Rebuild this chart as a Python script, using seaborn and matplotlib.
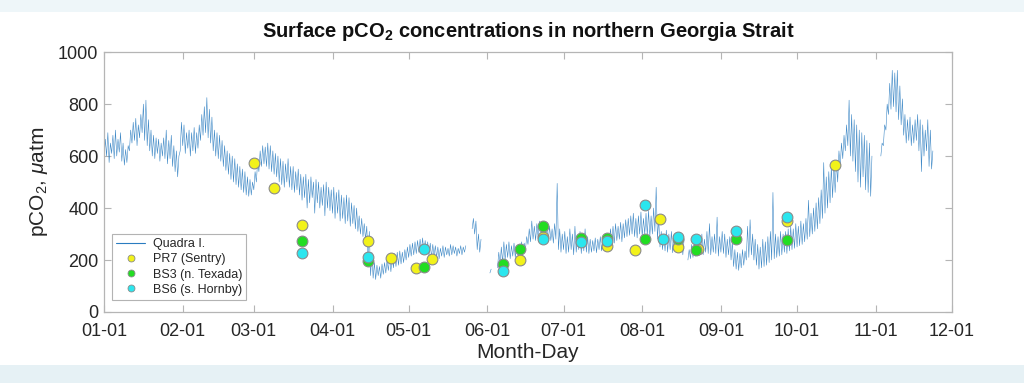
import numpy as np
import pandas as pd
import matplotlib
matplotlib.use("Agg")
import matplotlib.pyplot as plt
import matplotlib.dates as mdates
from matplotlib.lines import Line2D
from matplotlib.patches import Rectangle
import seaborn as sns

# ---------------- data ----------------
YEAR_START = "2017-01-01"
NA = np.nan

# Quadra I. continuous record: daily low / high envelope (day 0 = Jan 1)
quadra_lo = [590, 600, 575, 610, 590, 600, 615, 580, 565, 575,
             620, 650, 660, 640, 670, 690, 660, 640, 620, 600,
             590, 610, 580, 600, 590, 570, 590, 560, 540, 520,
             620, 640, 610, 630, 600, 620, 610, 630, 660, 680,
             690, 670, 650, 620, 600, 590, 580, 560, 545, 530,
             510, 500, 490, 480, 470, 460, 450, 445, 450, 470,
             500, 540, 560, 570, 560, 550, 540, 530, 520, 500,
             490, 480, 500, 480, 470, 460, 470, 450, 430, 440,
             400, 420, 440, 380, 420, 400, 410, 370, 400, 390,
             380, 360, 380, 350, 360, 340, 350, 330, 340, 320,
             310, 300, 290, 280, 200, 140, 130, 125, 140, 130,
             145, 150, 160, 155, 170, 175, 180, 185, 190, 200,
             210, 215, 220, 225, 230, 235, 225, 220, 215, 210,
             215, 210, 205, 215, 210, 220, 215, 220, 225, 215,
             225, 220, 230, NA, NA, 320, 300, 240, 230, NA,
             NA, NA, 150, NA, NA, 170, 180, 190, 200, 210,
             205, 215, 210, 220, 225, 230, 240, 260, 270, 280,
             275, 285, 280, 275, 285, 270, 275, 265, 280, 240,
             230, 240, 225, 230, 240, 220, 230, 240, 225, 235,
             230, 225, 230, 235, 228, 240, 235, 245, 250, 260,
             270, 265, 275, 280, 270, 285, 290, 295, 300, 290,
             285, 300, 290, 300, 295, 290, 300, 310, 280, 250,
             240, 235, 230, 240, 228, 235, 240, 230, 220, NA,
             200, 205, 210, 215, 220, 225, 220, 230, 225, 220,
             230, 225, 215, 230, 225, 210, 220, 200, 175, 165,
             160, 170, 180, 200, 210, 220, 200, 180, 165, 170,
             175, 180, 190, 200, 205, 210, 215, 220, 230, 225,
             235, 240, 245, 250, 255, 260, 270, 280, 290, 300,
             310, 320, 340, 360, 380, 400, 420, 440, 460, 500,
             560, 590, 620, 640, 600, 580, 540, 500, 480, 520,
             470, 460, 445, NA, NA, NA, 600, 640, 700, 760,
             780, 790, 770, 740, 720, 680, 650, 660, 640, 650,
             660, 620, 540, 600, 620, 560, 550]
quadra_hi = [665, 690, 650, 680, 700, 665, 690, 650, 625, 640,
             700, 730, 745, 720, 760, 800, 815, 740, 700, 680,
             670, 665, 650, 670, 700, 660, 680, 640, 620, 600,
             730, 720, 690, 700, 690, 710, 690, 720, 760, 790,
             825, 780, 750, 700, 690, 680, 660, 640, 620, 610,
             600, 590, 570, 560, 550, 540, 520, 510, 500, 540,
             580, 620, 640, 635, 650, 640, 620, 610, 600, 590,
             580, 570, 590, 560, 560, 540, 550, 530, 520, 530,
             510, 520, 500, 510, 500, 480, 490, 500, 480, 470,
             480, 460, 470, 450, 440, 450, 440, 420, 410, 400,
             370, 360, 340, 330, 310, 230, 190, 180, 175, 185,
             190, 200, 210, 215, 225, 230, 235, 230, 240, 250,
             260, 265, 270, 275, 280, 285, 275, 270, 265, 260,
             255, 250, 245, 255, 250, 245, 260, 255, 250, 245,
             255, 250, 255, NA, NA, 360, 350, 300, 280, NA,
             NA, NA, 165, NA, NA, 230, 250, 270, 260, 270,
             255, 265, 250, 260, 270, 265, 290, 320, 350, 330,
             340, 350, 330, 340, 345, 330, 320, 340, 495, 320,
             300, 310, 290, 320, 300, 330, 290, 310, 300, 320,
             290, 280, 275, 285, 280, 290, 285, 295, 300, 320,
             330, 340, 330, 345, 340, 355, 360, 370, 380, 360,
             370, 385, 360, 380, 390, 370, 400, 480, 360, 310,
             300, 315, 300, 310, 290, 300, 305, 290, 280, NA,
             240, 260, 270, 280, 290, 300, 280, 310, 340, 290,
             300, 365, 290, 310, 300, 280, 290, 270, 240, 230,
             225, 240, 235, 330, 355, 300, 280, 260, 250, 280,
             270, 290, 310, 460, 300, 290, 310, 300, 310, 320,
             330, 320, 340, 330, 350, 340, 360, 430, 380, 400,
             420, 440, 470, 575, 520, 540, 560, 570, 580, 620,
             650, 680, 720, 815, 760, 740, 720, 700, 690, 680,
             660, 650, 600, NA, NA, NA, 650, 720, 800, 880,
             930, 920, 930, 870, 820, 760, 740, 750, 720, 740,
             760, 740, 720, 700, 740, 700, 620]

# Bottle samples (day of year, pCO2)
pr7_day = [59, 67, 78, 104, 113, 123, 129, 164, 173, 198, 209, 219, 226, 234, 269, 288]
pr7_val = [572, 476, 335, 274, 209, 170, 205, 200, 290, 254, 238, 356, 251, 242, 351, 565]
bs3_day = [78, 104, 126, 157, 164, 173, 188, 198, 213, 226, 233, 249, 269]
bs3_val = [273, 197, 174, 185, 244, 331, 283, 283, 280, 280, 238, 280, 277]
bs6_day = [78, 104, 126, 157, 173, 188, 198, 213, 220, 226, 233, 249, 269]
bs6_val = [226, 213, 244, 159, 280, 269, 274, 411, 280, 290, 280, 311, 365]

series_names = ["Quadra I.", "PR7 (Sentry)", "BS3 (n. Texada)", "BS6 (s. Hornby)"]
title = "Surface pCO$_\\mathbf{2}$ concentrations in northern Georgia Strait"

# ---------------- styling ----------------
LINE_C = "#2a7cc0"
COLS = ["#f2f21a", "#22dd22", "#2be6ee"]
EDGE = "#8a8a8a"
TXT = "#262626"
SPINE = "#b5b5b5"

sns.set_theme(style="white")
plt.rcParams["font.family"] = ["Liberation Sans", "DejaVu Sans"]
plt.rcParams["mathtext.fontset"] = "custom"
plt.rcParams["mathtext.rm"] = "Liberation Sans"
plt.rcParams["mathtext.it"] = "Liberation Sans:italic"
plt.rcParams["mathtext.bf"] = "Liberation Sans:bold"

t0 = pd.Timestamp(YEAR_START)
n = len(quadra_lo)
days = np.arange(n)
tq = np.column_stack([days, days + 0.5]).ravel()
vq = np.column_stack([np.array(quadra_lo, float), np.array(quadra_hi, float)]).ravel()
seg = np.cumsum(np.isnan(vq))
dfq = pd.DataFrame({"t": t0 + pd.to_timedelta(tq, unit="D"), "v": vq, "seg": seg}).dropna()

def pts(d, v):
    return pd.DataFrame({"t": t0 + pd.to_timedelta(np.array(d, float), unit="D"), "v": v})

fig = plt.figure(figsize=(10.24, 3.83), dpi=100)
fig.patch.set_facecolor("white")
# slide background bands
fig.add_artist(Rectangle((0, 0.968), 1, 0.032, transform=fig.transFigure,
                         facecolor="#eef6f9", edgecolor="none", zorder=-10))
fig.add_artist(Rectangle((0, 0), 1, 0.048, transform=fig.transFigure,
                         facecolor="#e6f1f5", edgecolor="none", zorder=-10))

ax = fig.add_axes([0.1016, 0.1854, 0.828, 0.6786])

sns.lineplot(data=dfq, x="t", y="v", units="seg", estimator=None, sort=False,
             color=LINE_C, lw=0.4, alpha=0.9, ax=ax, zorder=2, legend=False)
for (d, v), c in zip([(pr7_day, pr7_val), (bs3_day, bs3_val), (bs6_day, bs6_val)], COLS):
    sns.scatterplot(data=pts(d, v), x="t", y="v", color=c, s=60,
                    edgecolor=EDGE, linewidth=0.8, ax=ax, zorder=3, legend=False)

ax.set_xlim(t0, pd.Timestamp("2017-12-01"))
ax.set_ylim(0, 1000)
ax.set_yticks([0, 200, 400, 600, 800, 1000])
ax.xaxis.set_major_locator(mdates.MonthLocator())
ax.xaxis.set_major_formatter(mdates.DateFormatter("%m-%d"))

ax.tick_params(axis="both", which="major", direction="in", length=5, width=0.8,
               color=SPINE, labelcolor=TXT, labelsize=13, top=True, right=True,
               bottom=True, left=True)
ax.tick_params(axis="x", pad=8)
ax.tick_params(axis="y", pad=4)
for s in ax.spines.values():
    s.set_color(SPINE)
    s.set_linewidth(0.9)

ax.set_xlabel("Month-Day", fontsize=15, color=TXT, labelpad=2)
ax.set_ylabel("pCO$_2$, $\\mu$atm", fontsize=15, color=TXT, labelpad=6)
ax.set_title(title, fontsize=14.5, fontweight="bold", color="#111111", pad=11)

handles = [Line2D([], [], color=LINE_C, lw=0.8)]
for c in COLS:
    handles.append(Line2D([], [], marker="o", ls="", markersize=5,
                          markerfacecolor=c, markeredgecolor=EDGE, markeredgewidth=0.6))
leg = ax.legend(handles, series_names, loc="lower left", bbox_to_anchor=(0.0094, 0.046),
                borderaxespad=0, fontsize=9, frameon=True, fancybox=False,
                handlelength=2.3, handletextpad=0.6, labelspacing=0.25,
                borderpad=0.35, edgecolor="#a0a0a0")
leg.get_frame().set_linewidth(0.8)
for tx in leg.get_texts():
    tx.set_color(TXT)

fig.savefig("out.png", dpi=100)
